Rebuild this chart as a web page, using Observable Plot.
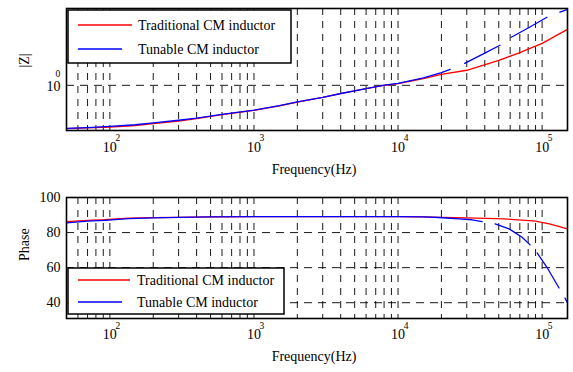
<!DOCTYPE html>
<html>
<head>
<meta charset="utf-8">
<script src="https://cdn.jsdelivr.net/npm/d3@7"></script>
<script src="https://cdn.jsdelivr.net/npm/@observablehq/plot@0.6"></script>
<style>
  body { margin: 0; background: #fff; }
  #chart { width: 573px; height: 372px; position: relative; background: #fff; }
  #chart svg { display: block; }
</style>
</head>
<body>
<div id="chart"></div>
<script>
// Series
const seriesNames = ["Traditional CM inductor", "Tunable CM inductor"];
const seriesColors = ["#ff0000", "#0000ff"];

// Frequency axis (Hz)
const freqDomain = [50, 150000];
const decades = [100, 1000, 10000, 100000];
const decadeExponents = ["2", "3", "4", "5"];
const gridMultipliers = [1, 2, 3, 4, 5, 6, 7, 8, 9];

// Impedance magnitude |Z| (normalised)
const magDomain = [0.5, 3.25];
const magTicks = [1];
const zTradFreq = [50, 70, 100, 150, 200, 300, 400, 600, 1000, 1500, 2000, 3000, 4000, 6000, 8000, 10000, 15000, 20000, 30000, 50000, 70000, 100000, 150000];
const zTradMag  = [0.514, 0.52, 0.527, 0.54, 0.555, 0.578, 0.600, 0.637, 0.681, 0.73, 0.774, 0.83, 0.880, 0.95, 1.0, 1.026, 1.11, 1.184, 1.26, 1.468, 1.65, 1.905, 2.36];
const zTunFreq = [50, 70, 100, 150, 200, 300, 400, 600, 1000, 1500, 2000, 3000, 4000, 6000, 8000, 10000, 15000, 20000, 23000, 29000, 40000, 51000, 61000, 80000, 108000, 133000, 150000];
const zTunMag  = [0.516, 0.523, 0.532, 0.546, 0.562, 0.585, 0.605, 0.64, 0.683, 0.732, 0.776, 0.832, 0.882, 0.952, 1.002, 1.03, 1.12, 1.215, 1.278, 1.40, 1.64, 1.848, 2.09, 2.41, 2.84, 3.07, 3.21];
const zTunSeg  = [1, 1, 1, 1, 1, 1, 1, 1, 1, 1, 1, 1, 1, 1, 1, 1, 1, 1, 1, 2, 2, 2, 3, 3, 3, 4, 4];

// Phase (degrees)
const phaseDomain = [31, 100];
const phaseTicks = [40, 60, 80, 100];
const phTradFreq = [50, 70, 92, 135, 200, 300, 500, 1000, 3000, 10000, 15000, 20000, 30000, 55000, 90000, 112000, 130000, 150000];
const phTradDeg  = [86.3, 86.9, 87.3, 88.2, 88.5, 88.7, 88.9, 89.1, 89.1, 89.1, 88.9, 88.7, 88.4, 87.8, 86.5, 85, 83.6, 82.1];
const phTunFreq = [50, 70, 92, 135, 200, 300, 500, 1000, 3000, 10000, 15000, 19000, 26500, 32600, 38300, 47200, 59000, 72600, 82500, 92300, 108000, 131000, 144000, 150000];
const phTunDeg  = [85.5, 86.5, 87.0, 88.0, 88.4, 88.7, 88.9, 89.1, 89.1, 89.1, 88.9, 88.6, 87.8, 87.3, 86.3, 85, 82.1, 77.3, 73, 68.4, 60.2, 48.4, 42.7, 39.8];
const phTunSeg  = [1, 1, 1, 1, 1, 1, 1, 1, 1, 1, 1, 1, 1, 1, 1, 2, 2, 2, 2, 3, 3, 3, 4, 4];

// Tables for the marks
const zTrad = zTradFreq.map((f, i) => ({f, v: zTradMag[i]}));
const zTun = zTunFreq.map((f, i) => ({f, v: zTunMag[i], seg: zTunSeg[i]}));
const phTrad = phTradFreq.map((f, i) => ({f, v: phTradDeg[i]}));
const phTun = phTunFreq.map((f, i) => ({f, v: phTunDeg[i], seg: phTunSeg[i]}));

// Log grid positions strictly inside the frequency domain
const gridFreqs = [];
for (const d of [10, 100, 1000, 10000, 100000]) {
  for (const m of gridMultipliers) {
    const f = d * m;
    if (f > freqDomain[0] && f < freqDomain[1]) gridFreqs.push(f);
  }
}

const font = "'Liberation Serif', 'Times New Roman', Times, serif";
const gridStyle = {stroke: "#000", strokeWidth: 1, strokeOpacity: 0.9, strokeDasharray: "7,6"};

function decadeLabels(dyBase, dyExp) {
  return [
    Plot.text(decades, {x: d => d, frameAnchor: "bottom", text: () => "10", dy: dyBase, fontSize: 14}),
    Plot.text(decades, {x: d => d, frameAnchor: "bottom", text: (d, i) => decadeExponents[i], dy: dyExp, dx: 8, fontSize: 9.5})
  ];
}

// Upper panel: |Z| on log axes
const magPlot = Plot.plot({
  width: 573, height: 180,
  marginLeft: 66, marginRight: 6, marginTop: 8, marginBottom: 50,
  style: {fontFamily: font, fontSize: "14px", background: "#fff", color: "#000"},
  x: {type: "log", domain: freqDomain, axis: null},
  y: {type: "log", domain: magDomain, axis: null},
  marks: [
    Plot.ruleX(gridFreqs, {x: d => d, ...gridStyle}),
    Plot.ruleY(magTicks, {y: d => d, ...gridStyle, strokeDasharray: "8,6"}),
    Plot.line(zTrad, {x: "f", y: "v", stroke: seriesColors[0], strokeWidth: 1.3}),
    Plot.line(zTun, {x: "f", y: "v", z: "seg", stroke: seriesColors[1], strokeWidth: 1.3}),
    Plot.frame({stroke: "#000", strokeWidth: 1.6}),
    ...decadeLabels(21, 10),
    Plot.text(["Frequency(Hz)"], {frameAnchor: "bottom", text: d => d, dy: 43, dx: -3, fontSize: 14}),
    Plot.text(["|Z|"], {frameAnchor: "left", text: d => d, dx: -42, dy: -2, rotate: -90, fontSize: 14}),
    Plot.text(magTicks, {y: d => d, frameAnchor: "left", text: () => "10", dx: -20, dy: 1, fontSize: 14}),
    Plot.text(magTicks, {y: d => d, frameAnchor: "left", text: () => "0", dx: -11, dy: -11, fontSize: 9.5})
  ]
});

// Lower panel: phase on a log frequency axis
const phasePlot = Plot.plot({
  width: 573, height: 192,
  marginLeft: 66, marginRight: 6, marginTop: 17, marginBottom: 54,
  style: {fontFamily: font, fontSize: "14px", background: "#fff", color: "#000"},
  x: {type: "log", domain: freqDomain, axis: null},
  y: {domain: phaseDomain, axis: null},
  marks: [
    Plot.ruleX(gridFreqs, {x: d => d, ...gridStyle}),
    Plot.ruleY(phaseTicks.filter(t => t < phaseDomain[1]), {y: d => d, ...gridStyle, strokeDasharray: "8,6"}),
    Plot.line(phTrad, {x: "f", y: "v", stroke: seriesColors[0], strokeWidth: 1.3}),
    Plot.line(phTun, {x: "f", y: "v", z: "seg", stroke: seriesColors[1], strokeWidth: 1.3}),
    Plot.frame({stroke: "#000", strokeWidth: 1.6}),
    ...decadeLabels(20, 10),
    Plot.text(["Frequency(Hz)"], {frameAnchor: "bottom", text: d => d, dy: 42, dx: -3, fontSize: 14}),
    Plot.text(["Phase"], {frameAnchor: "left", text: d => d, dx: -42, dy: 3, rotate: -90, fontSize: 14}),
    Plot.text(phaseTicks, {y: d => d, frameAnchor: "left", textAnchor: "end", text: d => String(d), dx: -6, fontSize: 14})
  ]
});

// In-plot legend box with a white background
function addLegend(svg, box) {
  const g = d3.select(svg).append("g")
    .attr("font-family", font).attr("font-size", 14).attr("text-anchor", "start");
  g.append("rect")
    .attr("x", box.x).attr("y", box.y).attr("width", box.w).attr("height", box.h)
    .attr("fill", "#fff").attr("stroke", "#000").attr("stroke-width", 1.5);
  seriesNames.forEach((name, i) => {
    const y = box.rows[i];
    g.append("line")
      .attr("x1", box.x + 10).attr("x2", box.x + 10 + box.lineLen[i])
      .attr("y1", y).attr("y2", y)
      .attr("stroke", seriesColors[i]).attr("stroke-width", 1.5);
    g.append("text")
      .attr("x", box.textX).attr("y", y).attr("dy", "0.35em")
      .attr("text-anchor", "start")
      .attr("fill", "#000").text(name);
  });
}

addLegend(magPlot, {x: 68, y: 10, w: 223, h: 53, rows: [25, 49], lineLen: [54, 44], textX: 138});
addLegend(phasePlot, {x: 68, y: 88, w: 216, h: 46, rows: [100, 122], lineLen: [52, 44], textX: 137});

const chart = document.getElementById("chart");
chart.appendChild(magPlot);
chart.appendChild(phasePlot);
</script>
</body>
</html>
